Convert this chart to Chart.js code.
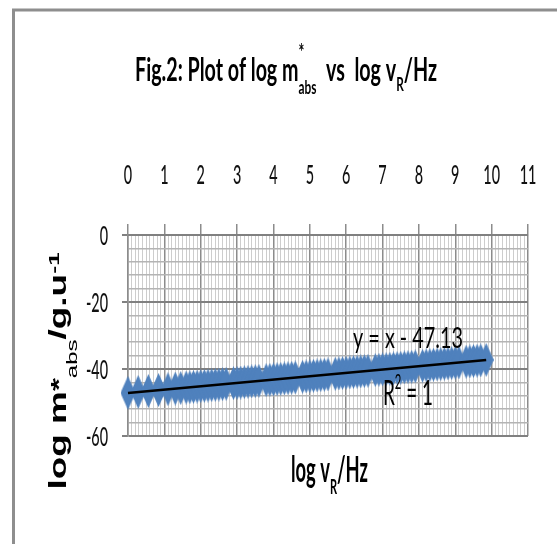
<!DOCTYPE html>
<html>
<head>
<meta charset="utf-8">
<script src="https://cdn.jsdelivr.net/npm/chart.js@4.4.1/dist/chart.umd.min.js"></script>
<style>
html, body { margin: 0; padding: 0; background: #fff; }
canvas { display: block; }
</style>
</head>
<body>
<canvas id="myChart" width="557" height="544"></canvas>
<script>
// log vR/Hz
var logV = [0, 0.28, 0.56, 0.84, 1.1, 1.3, 1.45, 1.6, 1.7, 1.8, 1.9, 2.0, 2.1, 2.2, 2.3, 2.4, 2.5, 2.6, 2.7,
    2.9, 3.0, 3.1, 3.2, 3.3, 3.4, 3.5, 3.6,
    3.8, 3.9, 4.0, 4.1, 4.2, 4.3, 4.4, 4.5, 4.6,
    4.8, 4.9, 5.0, 5.1, 5.2, 5.3, 5.4, 5.5,
    5.7, 5.8, 5.9, 6.0, 6.1, 6.2, 6.3, 6.4, 6.5, 6.6,
    6.8, 6.9, 7.0, 7.1, 7.2, 7.3, 7.4, 7.5, 7.6, 7.7, 7.8, 7.9,
    8.1, 8.2, 8.3, 8.4, 8.5, 8.6, 8.7, 8.8, 8.9, 9.0, 9.1,
    9.3, 9.4, 9.5, 9.6, 9.7, 9.85];
// log m*abs/g.u-1
var logM = [-47.13, -46.85, -46.57, -46.29, -46.03, -45.83, -45.68, -45.53, -45.43, -45.33, -45.23, -45.13, -45.03, -44.93, -44.83, -44.73, -44.63, -44.53, -44.43,
    -44.23, -44.13, -44.03, -43.93, -43.83, -43.73, -43.63, -43.53,
    -43.33, -43.23, -43.13, -43.03, -42.93, -42.83, -42.73, -42.63, -42.53,
    -42.33, -42.23, -42.13, -42.03, -41.93, -41.83, -41.73, -41.63,
    -41.43, -41.33, -41.23, -41.13, -41.03, -40.93, -40.83, -40.73, -40.63, -40.53,
    -40.33, -40.23, -40.13, -40.03, -39.93, -39.83, -39.73, -39.63, -39.53, -39.43, -39.33, -39.23,
    -39.03, -38.93, -38.83, -38.73, -38.63, -38.53, -38.43, -38.33, -38.23, -38.13, -38.03,
    -37.83, -37.73, -37.63, -37.53, -37.43, -37.28];
// linear trendline (y = x - 47.13)
var trendX = [0, 9.85];
var trendY = [-47.13, -37.28];

var xTickLabels = ['0', '1', '2', '3', '4', '5', '6', '7', '8', '9', '10', '11'];
var yTickLabels = ['0', '-20', '-40', '-60'];

// tall narrow diamond marker, like the stretched excel picture
var diamond = document.createElement('canvas');
diamond.width = 15;
diamond.height = 34;
var dctx = diamond.getContext('2d');
dctx.fillStyle = '#4F81BD';
dctx.beginPath();
dctx.moveTo(7.5, 0);
dctx.lineTo(15, 17);
dctx.lineTo(7.5, 34);
dctx.lineTo(0, 17);
dctx.closePath();
dctx.fill();

function partsWidth(ctx, parts, size, family, weight) {
    var w = 0;
    parts.forEach(function (p) {
        ctx.font = (p.w || weight) + ' ' + (size * (p.s || 1)) + 'px ' + family;
        if (p.adv !== false) w += ctx.measureText(p.t).width;
    });
    return w;
}

// draws text with sub/superscripts, stretched to the size seen in the picture
function drawRich(ctx, parts, o) {
    ctx.save();
    var w = partsWidth(ctx, parts, o.size, o.family, o.weight);
    var sx = o.sx || (o.width / w);
    var sy = o.cap / (o.size * 0.72);
    ctx.translate(o.x, o.y);
    if (o.rot) ctx.rotate(o.rot);
    ctx.scale(sx, sy);
    var x = o.align === 'center' ? -w / 2 : (o.align === 'right' ? -w : 0);
    ctx.textAlign = 'left';
    ctx.textBaseline = 'alphabetic';
    ctx.fillStyle = o.color || '#000';
    parts.forEach(function (p) {
        ctx.font = (p.w || o.weight) + ' ' + (o.size * (p.s || 1)) + 'px ' + o.family;
        ctx.fillText(p.t, x, (p.dy || 0) * o.size);
        if (p.adv !== false) x += ctx.measureText(p.t).width;
    });
    ctx.restore();
}

function isMajor(v, step) {
    var r = v / step;
    return Math.abs(r - Math.round(r)) < 1e-6;
}

var framePlugin = {
    id: 'frame',
    beforeDraw: function (chart) {
        var c = chart.ctx;
        c.save();
        c.fillStyle = '#fff';
        c.fillRect(0, 0, chart.width, chart.height);
        c.strokeStyle = '#8e8e8e';
        c.lineWidth = 3;
        c.beginPath();
        c.moveTo(13.5, chart.height);
        c.lineTo(13.5, 10);
        c.lineTo(chart.width, 10);
        c.stroke();
        c.restore();
    }
};

var textPlugin = {
    id: 'texts',
    afterDraw: function (chart) {
        var c = chart.ctx;
        var xs = chart.scales.x, ys = chart.scales.y;
        var num = { size: 18, family: 'Lato, sans-serif', weight: '500', sx: 0.8, cap: 19.5, color: '#111' };

        xTickLabels.forEach(function (t) {
            drawRich(c, [{ t: t }], Object.assign({}, num, { x: xs.getPixelForValue(+t), y: 184, align: 'center' }));
        });
        yTickLabels.forEach(function (t) {
            drawRich(c, [{ t: t }], Object.assign({}, num, { x: 108, y: ys.getPixelForValue(+t) + 10, align: 'right' }));
        });

        // chart title
        drawRich(c, [
            { t: 'Fig.2: Plot of log m' },
            { t: '*', s: 0.7, dy: -0.65, adv: false },
            { t: 'abs', s: 0.6, dy: 0.4 },
            { t: '  vs  log v' },
            { t: 'R', s: 0.6, dy: 0.3 },
            { t: '/Hz' }
        ], { x: 286, y: 81, size: 20, family: 'Lato, sans-serif', weight: 'bold', width: 302, cap: 23, align: 'center' });

        // x axis title
        drawRich(c, [
            { t: 'log v' },
            { t: 'R', s: 0.6, dy: 0.33 },
            { t: '/Hz' }
        ], { x: 291, y: 482, size: 20, family: 'Lato, sans-serif', weight: 'bold', width: 77, cap: 26, align: 'left' });

        // y axis title
        drawRich(c, [
            { t: 'log m' },
            { t: '*', s: 0.9, dy: 0 },
            { t: 'abs', s: 0.65, dy: 0.45, w: 'normal' },
            { t: '/g.u' },
            { t: '-1', s: 0.65, dy: -0.3 }
        ], { x: 66, y: 371, rot: -Math.PI / 2, size: 20, family: '"Liberation Sans", Arial, sans-serif', weight: 'bold', width: 237, cap: 17, align: 'center' });

        // trendline labels
        drawRich(c, [{ t: 'y = x - 47.13' }],
            { x: 353, y: 348, size: 20, family: 'Lato, sans-serif', weight: 'normal', width: 110, cap: 21, align: 'left' });
        drawRich(c, [
            { t: 'R' },
            { t: '2', s: 0.6, dy: -0.45 },
            { t: ' = 1' }
        ], { x: 383, y: 405, size: 20, family: 'Lato, sans-serif', weight: 'normal', width: 50, cap: 25, align: 'left' });
    }
};

var points = logV.map(function (v, i) { return { x: v, y: logM[i] }; });
var trend = trendX.map(function (v, i) { return { x: v, y: trendY[i] }; });

var ctx = document.getElementById('myChart');
var chart = new Chart(ctx, {
    type: 'scatter',
    data: {
        datasets: [{
            label: 'log m*abs',
            data: points,
            pointStyle: diamond,
            pointRadius: 8,
            backgroundColor: '#4F81BD',
            borderWidth: 0,
            clip: false,
            order: 2
        }, {
            type: 'line',
            label: 'Linear trend',
            data: trend,
            borderColor: '#000',
            borderWidth: 2.5,
            pointRadius: 0,
            fill: false,
            clip: false,
            order: 1
        }]
    },
    options: {
        responsive: false,
        animation: false,
        events: [],
        layout: { padding: { left: 0, top: 0, right: 29, bottom: 108 } },
        plugins: {
            legend: { display: false },
            tooltip: { enabled: false }
        },
        scales: {
            x: {
                type: 'linear',
                position: 'top',
                min: 0,
                max: 11,
                ticks: { display: false, stepSize: 0.1 },
                grid: {
                    color: function (c) { return c.tick && isMajor(c.tick.value, 1) ? '#8c8c8c' : '#cdcdcd'; },
                    lineWidth: function (c) { return c.tick && isMajor(c.tick.value, 1) ? 1.5 : 1; },
                    tickColor: function (c) { return c.tick && isMajor(c.tick.value, 1) ? '#8c8c8c' : 'rgba(0,0,0,0)'; },
                    tickLength: 11
                },
                border: { color: '#808080', width: 2 },
                afterFit: function (scale) { scale.height = 235; }
            },
            y: {
                type: 'linear',
                position: 'left',
                min: -60,
                max: 0,
                ticks: { display: false, stepSize: 4 },
                grid: {
                    color: function (c) { return c.tick && isMajor(c.tick.value, 20) ? '#808080' : '#b4b4b4'; },
                    lineWidth: function (c) { return c.tick && isMajor(c.tick.value, 20) ? 2 : 1.5; },
                    tickColor: function (c) { return c.tick && isMajor(c.tick.value, 20) ? '#808080' : 'rgba(0,0,0,0)'; },
                    tickLength: 6
                },
                border: { color: '#8c8c8c', width: 1.5 },
                afterFit: function (scale) { scale.width = 128; }
            }
        }
    },
    plugins: [framePlugin, textPlugin]
});
</script>
</body>
</html>
